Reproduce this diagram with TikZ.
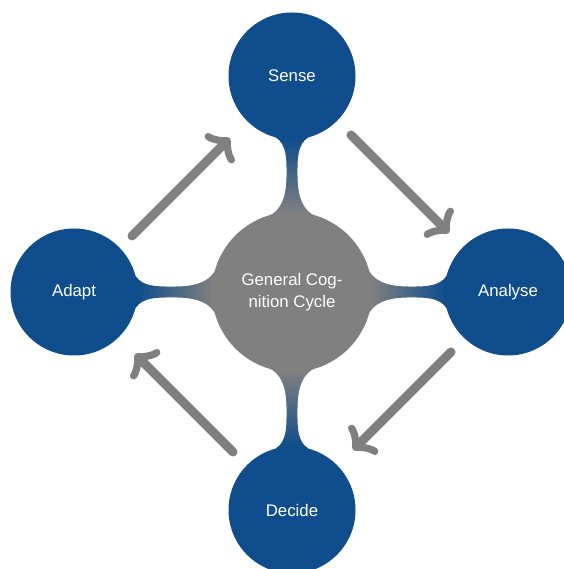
\documentclass[tikz,border=0pt]{standalone}
\usepackage{fontspec}
\setmainfont{Liberation Sans}
\usetikzlibrary{mindmap,arrows.meta}
\definecolor{cblue}{RGB}{15,77,140}
\definecolor{cgray}{RGB}{128,128,128}
\pgfdeclarelayer{background}
\pgfsetlayers{background,main}
\begin{document}
\begin{tikzpicture}[x=1pt,y=1pt,
  bubble/.style={circle, fill=cblue, draw=cblue, line width=2pt, outer sep=0pt, text=white,
    minimum size=125pt, inner sep=0pt,
    font=\fontsize{16.8}{21.5}\selectfont, align=center},
  hub/.style={bubble, fill=cgray, draw=cgray, minimum size=158pt},
  cyclearrow/.style={draw=cgray, line width=9pt, line cap=round,
    -{Classical TikZ Rightarrow[length=18pt,width=40pt,round]}},
  link/.style={line width=15pt, circle connection bar switch color=from (cgray) to (cblue)}
]
\useasboundingbox (0,0) rectangle (563,569);
\node[hub] (c) at (292,277) {General Cog-\\nition Cycle};
\node[bubble] (s) at (292,493) {Sense};
\node[bubble] (an) at (508,277) {Analyse};
\node[bubble] (d) at (292,59) {Decide};
\node[bubble] (ad) at (74,277) {Adapt};
\begin{pgfonlayer}{background}
\path (c) to[link] (s);
\path (c) to[link] (an);
\path (c) to[link] (d);
\path (c) to[link] (ad);
\end{pgfonlayer}
\coordinate (a1s) at (132,333); \coordinate (a1e) at (230,431);
\coordinate (a2s) at (351,434); \coordinate (a2e) at (449,336);
\coordinate (a3s) at (451,217); \coordinate (a3e) at (353,119);
\coordinate (a4s) at (233,117); \coordinate (a4e) at (135,215);
\draw[cyclearrow] (a1s) -- (a1e);
\draw[cyclearrow] (a2s) -- (a2e);
\draw[cyclearrow] (a3s) -- (a3e);
\draw[cyclearrow] (a4s) -- (a4e);
\end{tikzpicture}
\end{document}
